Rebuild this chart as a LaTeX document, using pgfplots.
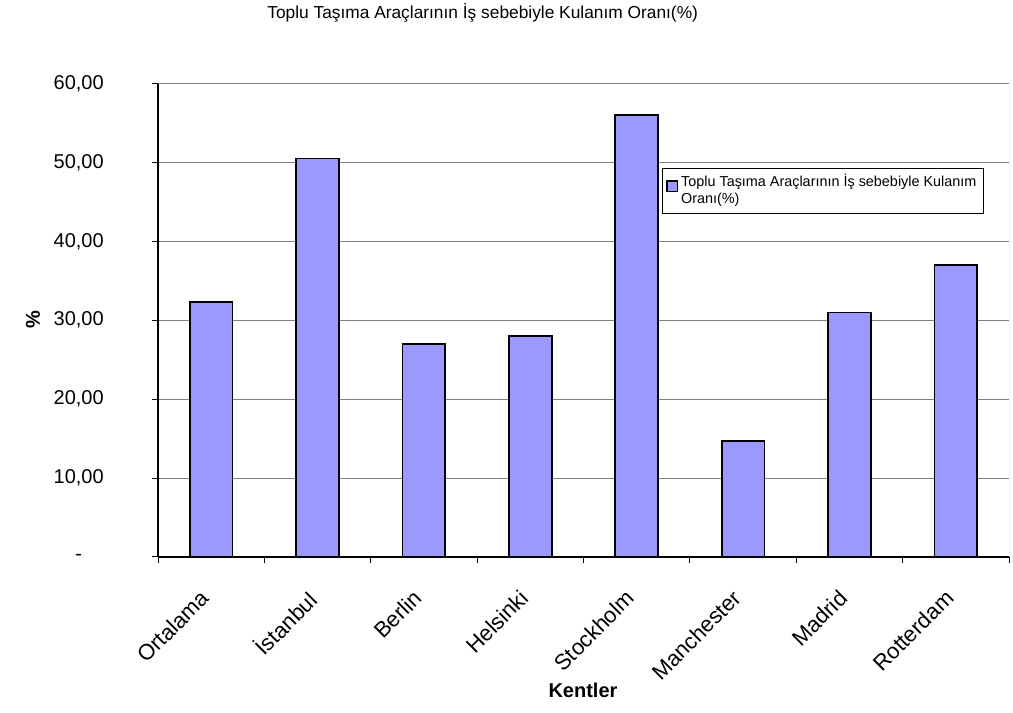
\documentclass[border=0pt]{standalone}
\usepackage{fontspec}
\setmainfont{Liberation Sans}
\usepackage{pgfplots}
\pgfplotsset{compat=1.18}
\definecolor{barblue}{RGB}{153,153,255}
\definecolor{gridgray}{RGB}{128,128,128}
\begin{document}
\begin{tikzpicture}
\begin{axis}[
  at={(118.5pt,117pt)}, anchor=south west,
  scale only axis,
  width=638.25pt, height=355.1pt,
  ybar, bar width=32pt,
  xmin=-0.5, xmax=7.5, ymin=0, ymax=60,
  axis x line*=bottom, axis y line*=left,
  axis line style={-, black, line width=0.9pt},
  xtick={0,...,7},
  xticklabels={Ortalama,İstanbul,Berlin,Helsinki,Stockholm,Manchester,Madrid,Rotterdam},
  x tick style={draw=none},
  xticklabel style={yshift=-19pt, xshift=-9pt, rotate=45, anchor=north east, inner sep=0pt, font=\fontsize{16.5}{19}\selectfont},
  extra x ticks={-0.5,0.5,1.5,2.5,3.5,4.5,5.5,6.5,7.5},
  extra x tick labels={},
  extra x tick style={x tick style={draw=black, line width=0.75pt}, major tick length=4.5pt, tick align=outside},
  ytick={0,10,20,30,40,50,60},
  yticklabels={{-},{10,00},{20,00},{30,00},{40,00},{50,00},{60,00}},
  yticklabel style={anchor=center, inner sep=0pt, xshift=-55pt, font=\fontsize{15}{18}\selectfont},
  y tick style={draw=black, line width=0.75pt},
  tick align=outside, major tick length=4.5pt,
  ymajorgrids, grid style={gridgray, line width=0.75pt},
  legend style={at={(rel axis cs:0.592,0.822)}, anchor=north west, draw=black, line width=0.6pt,
    font=\fontsize{10.8}{12.8}\selectfont, inner xsep=3pt, inner ysep=2pt,
    nodes={text depth=}},
  legend cell align=left,
  legend image code/.code={\draw[fill=barblue, draw=black, line width=1.2pt] (0pt,-0.5pt) rectangle (8pt,7.5pt);},
]
\addplot[fill=barblue, draw=black, line width=1.3pt] coordinates {
  (0,32.3) (1,50.5) (2,27.0) (3,28.0) (4,56.0) (5,14.7) (6,31.0) (7,37.0)
};
\addlegendentry{\begin{tabular}[t]{@{}l@{}}Toplu Taşıma Araçlarının İş sebebiyle Kulanım\\Oranı(\%)\end{tabular}}
\draw[gridgray, line width=0.75pt] (rel axis cs:1,0) -- (rel axis cs:1,1);
\end{axis}
\node at (362pt,525pt) {\fontsize{13}{15}\selectfont Toplu Taşıma Araçlarının İş sebebiyle Kulanım Oranı(\%)};
\node[rotate=90] at (24.75pt,294.75pt) {\fontsize{15}{18}\selectfont\bfseries \%};
\node at (437.25pt,17.25pt) {\fontsize{15}{18}\selectfont\bfseries Kentler};
\pgfresetboundingbox
\path[use as bounding box] (0,0) rectangle (759.75pt,534.75pt);
\end{tikzpicture}
\end{document}
